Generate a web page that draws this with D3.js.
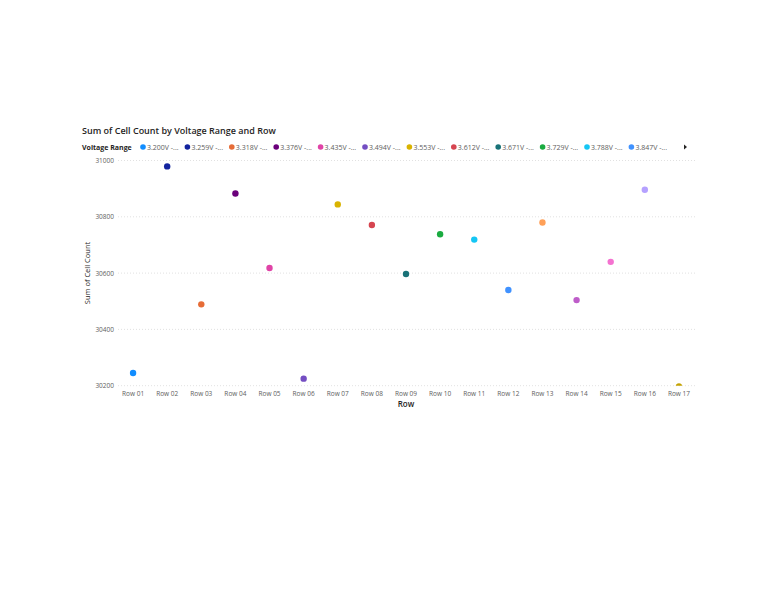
<!DOCTYPE html>
<html>
<head>
<meta charset="utf-8">
<script src="https://cdn.jsdelivr.net/npm/d3@7"></script>
<style>
  body { margin: 0; background: #fff; }
  text { font-family: "Open Sans", "Noto Sans", sans-serif; }
</style>
</head>
<body>
<script>
// Rows on the x axis, one dot per row
var rows = ["Row 01", "Row 02", "Row 03", "Row 04", "Row 05", "Row 06", "Row 07", "Row 08", "Row 09",
            "Row 10", "Row 11", "Row 12", "Row 13", "Row 14", "Row 15", "Row 16", "Row 17"];

// Voltage range of each row (legend series)
var ranges = ["3.200V - 3.259V", "3.259V - 3.318V", "3.318V - 3.376V", "3.376V - 3.435V", "3.435V - 3.494V",
              "3.494V - 3.553V", "3.553V - 3.612V", "3.612V - 3.671V", "3.671V - 3.729V", "3.729V - 3.788V",
              "3.788V - 3.847V", "3.847V - 3.906V", "3.906V - 3.965V", "3.965V - 4.024V", "4.024V - 4.082V",
              "4.082V - 4.141V", "4.141V - 4.200V"];

// Sum of cell count per row
var cellCounts = [30245, 30979, 30489, 30883, 30618, 30225, 30844, 30771, 30597,
                  30738, 30719, 30540, 30780, 30504, 30640, 30896, 30197];

var yTicks = [30200, 30400, 30600, 30800, 31000];

// Power BI default palette
var palette = ["#118DFF", "#12239E", "#E66C37", "#6B007B", "#E044A7", "#744EC2", "#D9B300", "#D64550",
               "#197278", "#1AAB40", "#15C6F4", "#4092FF", "#FFA058", "#BE5DC9", "#F472D0", "#B5A1FF", "#C4A200"];

var width = 768, height = 594;
var plot = {left: 116, right: 696, top: 160.5, bottom: 385.7};

var svg = d3.select("body").append("svg")
    .attr("width", width)
    .attr("height", height);

var color = d3.scaleOrdinal().domain(ranges).range(palette);

var x = d3.scaleBand().domain(rows).range([plot.left, plot.right]);
var y = d3.scaleLinear().domain([30200, 31000]).range([plot.bottom, plot.top]);

// title
svg.append("text")
    .attr("x", 82).attr("y", 134)
    .attr("font-size", 9)
    .attr("font-weight", 600)
    .attr("fill", "#252423")
    .text("Sum of Cell Count by Voltage Range and Row");

// legend
var legend = svg.append("g").attr("transform", "translate(0,147)");
legend.append("text")
    .attr("x", 82).attr("y", 2.5)
    .attr("font-size", 7)
    .attr("font-weight", 700)
    .attr("fill", "#252423")
    .text("Voltage Range");

var items = legend.selectAll("g.item")
    .data(ranges.slice(0, 12))
    .enter().append("g")
    .attr("class", "item")
    .attr("transform", function(d, i) { return "translate(" + (143 + i * 44.4) + ",0)"; });
items.append("circle")
    .attr("r", 2.8)
    .attr("fill", function(d) { return color(d); });
items.append("text")
    .attr("x", 4).attr("y", 2.5)
    .attr("font-size", 7)
    .attr("fill", "#605E5C")
    .text(function(d) { return d.slice(0, 8) + "..."; });
legend.append("path")
    .attr("d", "M684,-2.5L687,0L684,2.5Z")
    .attr("fill", "#252423");

// gridlines + y labels
svg.append("g").selectAll("line")
    .data(yTicks)
    .enter().append("line")
    .attr("x1", 118).attr("x2", plot.right)
    .attr("y1", function(d) { return y(d); })
    .attr("y2", function(d) { return y(d); })
    .attr("stroke", "#d9d9d9")
    .attr("stroke-width", 0.8)
    .attr("stroke-dasharray", "1,2");

var yAxis = svg.append("g")
    .attr("transform", "translate(114,0)")
    .call(d3.axisLeft(y).tickValues(yTicks).tickSize(0).tickFormat(d3.format("d")));
yAxis.select(".domain").remove();
yAxis.selectAll("text")
    .attr("font-size", 6.5)
    .attr("fill", "#605E5C")
    .attr("font-family", "Open Sans, sans-serif")
    .attr("dx", 0).attr("x", 0);

var xAxis = svg.append("g")
    .attr("transform", "translate(0," + (plot.bottom + 3) + ")")
    .call(d3.axisBottom(x).tickSize(0));
xAxis.select(".domain").remove();
xAxis.selectAll("text")
    .attr("font-size", 6.5)
    .attr("fill", "#605E5C")
    .attr("font-family", "Open Sans, sans-serif");

// axis titles
svg.append("text")
    .attr("transform", "translate(90,273) rotate(-90)")
    .attr("text-anchor", "middle")
    .attr("font-size", 7.5)
    .attr("fill", "#252423")
    .text("Sum of Cell Count");

svg.append("text")
    .attr("x", 406).attr("y", 407)
    .attr("text-anchor", "middle")
    .attr("font-size", 8)
    .attr("font-weight", 600)
    .attr("fill", "#252423")
    .text("Row");

// dots, clipped to the plot area
svg.append("clipPath").attr("id", "plotclip")
    .append("rect")
    .attr("x", plot.left).attr("y", plot.top - 10)
    .attr("width", plot.right - plot.left).attr("height", plot.bottom - plot.top + 10);

svg.append("g").attr("clip-path", "url(#plotclip)")
    .selectAll("circle")
    .data(rows)
    .enter().append("circle")
    .attr("cx", function(d) { return x(d) + x.bandwidth() / 2; })
    .attr("cy", function(d, i) { return y(cellCounts[i]); })
    .attr("r", 3.2)
    .attr("fill", function(d, i) { return color(ranges[i]); });
</script>
</body>
</html>
